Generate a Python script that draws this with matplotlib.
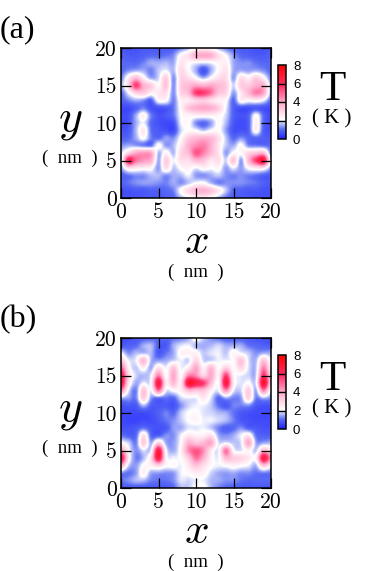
import numpy as np
import matplotlib
matplotlib.use("Agg")
import matplotlib.pyplot as plt
from matplotlib.colors import LinearSegmentedColormap

plt.rcParams['mathtext.fontset'] = 'cm'
plt.rcParams['axes.unicode_minus'] = False

# temperature, rows run from y=20 down to y=0, x=0..20
temp_a = [
 [.8,.7,.7,.8,.8,.8,.8,.9,1.2,1.6,2.2,2.4,2.2,1.6,1.2,.9,.8,.8,.7,.7,.8],
 [.9,.8,.8,.9,1,1,1.1,1.3,2.3,2.8,3.8,4,3.8,2.8,2.1,1.4,1,.9,.8,.8,.9],
 [1,1,1,1.2,1.5,1.5,1.6,1.5,2.6,2.2,2,1.9,2,2.3,2.4,1.5,1.3,1.3,1.1,1,1],
 [1,1.3,1.5,1.5,1.2,1.7,2,1.6,2.9,2.2,1.5,.7,1.5,2.2,2.7,1.5,1.5,1.4,1.5,1.3,1],
 [1.2,2.5,3.6,2.4,1.5,1.8,3.2,1.3,3,2.8,2.2,1.6,2.2,2.8,2.9,1.4,2.8,2.4,3.2,2.4,1.2],
 [1.5,3,5.6,3.8,3.2,2.2,3.4,1.3,3.2,3.6,4,3.8,4,3.6,3.2,1.8,3.2,3.2,3.8,3.8,1.5],
 [1,2,3,3.2,2.4,2.6,2.8,1.3,3,3.6,5.6,5.6,4.8,3.4,3,1.4,2.6,3.6,4.6,4,1.4],
 [.9,1.2,1.5,1.3,.9,2.2,2.2,1.2,2.4,2.5,3,3.2,2.8,2.4,2.2,1,2.4,2.2,2.4,2,1],
 [.6,.6,.9,1.2,.7,.7,.8,1.1,2.3,3.4,3.8,4,3.8,3.2,2,.9,.7,.7,.8,.7,.6],
 [.6,.7,1.5,2.4,1.2,.7,.8,1.1,2.1,2.3,2.4,2.4,2.4,2.3,1.8,.9,.7,.9,2.2,1,.6],
 [.6,.7,1.5,2,1,.7,.6,.7,2,2.2,1.3,1,1.4,2.2,1.6,.8,.6,.9,2.4,1,.6],
 [.7,.8,1.6,2.6,1.1,.8,.7,.6,1.8,2.2,2.1,1.7,2.1,2.2,1.4,.7,.7,.9,2.4,.9,.7],
 [.9,1,1.5,2.2,1.2,1,1.4,1.3,2.2,3.2,3.6,3.8,3.6,2.8,1.7,1,1.3,1,1,.9,.8],
 [1.3,1.5,1.4,1.2,1.1,2.2,1.4,1.6,2.6,3.8,4.4,4.6,3.8,2.6,1.7,1.5,2.2,1.3,1.2,1.1,1],
 [1.8,3,4,4.2,4,1.6,2.4,1.6,3,3.6,5.2,4.6,3.6,2.7,1.4,2.2,2.2,3,3.4,3.6,1.2],
 [1.6,6.2,4.8,4.2,3.8,1.5,3.2,2,2.8,2.8,3.6,3.4,2.6,2.8,1.8,3.4,1.4,3.6,5.6,6.8,2],
 [1.4,2.8,2.6,2.4,2.3,1.4,2.8,1.7,2.2,2.4,2,2.4,2.1,2.3,1.4,2,1.4,2.2,2.6,2.6,1.4],
 [.9,1.1,1.3,1.3,1.6,1.6,1.3,1.5,1.6,2,1.4,1.3,1.5,1.7,1.3,1.2,1.3,1.2,1.1,.9,.8],
 [.9,1.1,1.3,1.4,1.4,1.3,1.2,1.5,1.3,1.7,2.1,2.2,1.6,1.2,1.3,1.3,1.3,1.2,1.1,.9,.8],
 [.7,.7,.8,.8,.9,.9,1,1.2,2.2,3,3.6,3.8,3.4,2.6,1.7,1,.9,.8,.8,.7,.7],
 [.7,.7,.7,.8,.8,.8,.9,1,1.6,2,2.4,2.6,2.2,1.6,1.1,.9,.8,.8,.7,.7,.7],
]
temp_b = [
 [.7,.7,.8,.9,1,1,.9,1.1,1.2,1.5,2.3,1.7,1.3,1.1,.9,.9,.9,.8,.7,.7,.7],
 [.8,.9,1,1.5,1.6,.9,.8,1.5,1.9,2,1.6,1.5,1.6,1.8,1.5,1.5,1.5,1.1,1,.9,.8],
 [2,1.3,1.6,1.6,1.6,.8,1.1,1.5,2.3,2.4,2.3,1.7,1.9,2,1.7,2.3,2,1.7,1.3,1.5,1.5],
 [3.4,2,2,3.6,1.6,1.4,1.5,1.8,2,1.8,3,1.8,1.8,2,2,2.2,3.4,1.9,1.6,3.4,2],
 [5.2,2.4,1.7,2.4,1.5,2.8,2,3.4,2,2.6,4,2.4,3.6,2.2,3.2,2.2,3,1.9,1.7,4.6,2.4],
 [6.8,3,1.8,1.6,2,4.6,2.2,4,2.2,4.6,4.4,3,4,2.4,5.6,2.4,2,1.8,1.8,5.8,3],
 [7,2.8,1.5,2,2.2,6.8,2.6,3.6,2.6,7,6.4,5.6,3.6,2.2,6.8,2.6,1.9,2.2,2,7.2,3],
 [4.6,2,1.2,3.4,2,4.8,2,2.2,2.4,3.6,3.4,3.4,2.4,2,4.4,2,1.8,3.2,1.5,4.6,2],
 [1.6,1.4,1.2,3.2,1.4,1.1,1.1,1,1.8,2,2,2.6,1.9,1,1.5,1.2,1.4,3,1.2,1.6,1.3],
 [.7,.8,.8,1.6,.9,.8,.8,.7,1.3,1.8,2,2,1.7,1.1,.8,1.2,1.2,1.3,.8,.7,.7],
 [.6,.6,.6,.6,.7,.9,1.2,1,1.7,2.1,2.2,1.9,1.8,1.6,1.5,1.1,.8,.7,.6,.6,.6],
 [.6,.5,.5,.6,.6,.8,1.1,1.3,1.7,2.1,2.3,2,2,1.8,1.6,1.2,.8,.7,.6,.6,.6],
 [.7,.7,.8,1.1,.8,.7,.8,1.4,1.5,1.9,1.9,2,1.7,1.2,.9,1,1.3,.9,.8,.7,.7],
 [1.1,.9,1,2.8,1,.9,1.3,1.3,2,2.6,2.4,2.4,2.8,1.5,1.3,1.5,2,2.6,1.1,.9,.9],
 [2.3,1.8,1.2,3.2,1.5,3.2,1.5,1.4,2.2,3.8,3.4,3.6,4,1.9,2,1.7,1.9,4,1.5,1.5,1.6],
 [4.4,2.2,1.3,1.9,2,6.6,2.2,1.5,2.4,4.4,5.2,4.4,2.6,2,4.8,2.2,1.9,2.4,1.7,3.6,2.8],
 [6.8,2.6,1.2,1.6,2.8,6.6,2.4,2,2.2,3.2,4.8,3.8,2.4,2,3.6,3.2,3,2.6,2.4,6.6,4.4],
 [4,1.8,1.4,2.2,2.4,3,2.2,2.2,2,2.6,3.4,2.8,2.2,2,2.2,2.4,2.2,2,1.6,3.4,2.4],
 [1.3,1.1,1.4,2.4,1.5,1.4,1.3,1.4,2,2.2,2.5,2.4,1.8,1.5,1.4,1.5,1.3,1.3,1.1,1.2,1.1],
 [1.1,1.3,1.6,1.6,1.2,1.1,1.1,1.3,1.9,1.8,2,2,1.6,1.5,1.3,1.3,1.1,1,1,1,1],
 [.8,.8,.8,.8,.8,.8,.8,1,1.6,1.7,2.2,2.2,1.6,1.2,1,.9,.8,.8,.8,.8,.8],
]
xticks = [0, 5, 10, 15, 20]
yticks = [0, 5, 10, 15, 20]
cb_ticks = [0, 2, 4, 6, 8]

cmap = LinearSegmentedColormap.from_list('bwr2', [
    (0, '#1f1fff'), (0.13, '#5a6cf5'), (0.18, '#9aa5f8'), (0.26, '#ffffff'),
    (0.5, '#ffa8cc'), (0.72, '#ff2f68'), (1, '#ff0000')])

W, H = 382., 571.
fig = plt.figure(figsize=(3.82, 5.71), dpi=100)


def box(x0, y0, x1, y1):
    return [x0/W, 1-y1/H, (x1-x0)/W, (y1-y0)/H]


def panel(data, top, letter):
    ax = fig.add_axes(box(121, top, 271, top+150))
    im = ax.imshow(np.array(data), cmap=cmap, vmin=0, vmax=8, extent=[-.5, 20.5, -.5, 20.5],
                   interpolation='catrom', aspect='auto')
    ax.set_xlim(0, 20)
    ax.set_ylim(0, 20)
    ax.set_xticks(xticks)
    ax.set_yticks(yticks)
    ax.tick_params(direction='in', top=True, right=True, length=7, width=0.9, pad=3,
                   labelsize=15.5, labelfontfamily='cmr10')
    for s in ax.spines.values():
        s.set_linewidth(1.1)

    cax = fig.add_axes(box(278, top+17, 286, top+91))
    cb = fig.colorbar(im, cax=cax, ticks=cb_ticks)
    cb.ax.tick_params(length=0, pad=5, labelsize=9.5, labelfontfamily='Liberation Sans')
    cb.outline.set_linewidth(1.1)
    for v in cb_ticks[1:-1]:
        cax.axhline(v, color='k', lw=1)

    fig.text(0/W, 1-(top-18)/H, letter, family='Liberation Serif', fontsize=23, va='center', ha='left')
    fig.text(196/W, 1-(top+193)/H, '$x$', fontsize=31, ha='center', va='center')
    fig.text(196/W, 1-(top+224)/H, '(  nm  )', family='Liberation Serif', fontsize=13.5, ha='center', va='center')
    fig.text(70/W, 1-(top+72)/H, '$y$', fontsize=33, ha='center', va='center')
    fig.text(70/W, 1-(top+110)/H, '(  nm  )', family='Liberation Serif', fontsize=13.5, ha='center', va='center')
    fig.text(332/W, 1-(top+42)/H, 'T', family='Liberation Serif', fontsize=31, ha='center', va='center')
    fig.text(332/W, 1-(top+71)/H, '( K )', family='Liberation Serif', fontsize=15, ha='center', va='center')


panel(temp_a, 48, '(a)')
panel(temp_b, 338, '(b)')

fig.savefig('out.png', dpi=100)
